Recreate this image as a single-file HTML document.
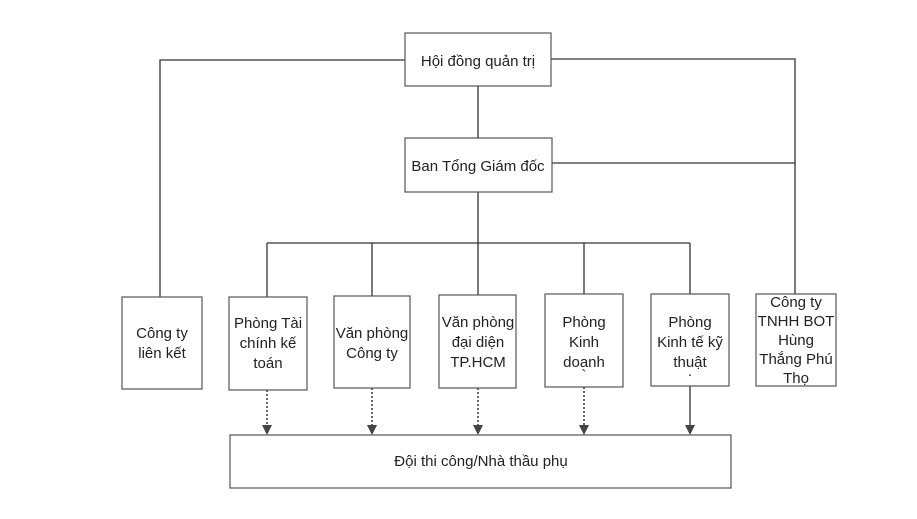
<!DOCTYPE html>
<html><head><meta charset="utf-8"><style>
html,body{margin:0;padding:0;background:#fff;}
svg{display:block;}
text{font-family:"Liberation Sans","DejaVu Sans",sans-serif;font-size:15px;fill:#222;text-anchor:middle;}
</style></head><body>
<svg width="917" height="519" viewBox="0 0 917 519" xmlns="http://www.w3.org/2000/svg">
<rect x="0" y="0" width="917" height="519" fill="#fff"/>
<g stroke="#333" stroke-width="1.3" fill="none">
<polyline points="405,60 160,60 160,297"/>
<polyline points="551,59 795,59 795,294"/>
<line x1="552" y1="163" x2="795" y2="163"/>
<line x1="478" y1="86" x2="478" y2="138"/>
<line x1="478" y1="192" x2="478" y2="295"/>
<line x1="267" y1="243" x2="690" y2="243"/>
<line x1="267" y1="243" x2="267" y2="297"/>
<line x1="372" y1="243" x2="372" y2="296"/>
<line x1="584" y1="243" x2="584" y2="294"/>
<line x1="690" y1="243" x2="690" y2="294"/>
</g>
<g stroke="#333" stroke-width="1.5" fill="none" stroke-dasharray="2,2">
<line x1="267" y1="390" x2="267" y2="426"/>
<line x1="372" y1="388" x2="372" y2="426"/>
<line x1="478" y1="388" x2="478" y2="426"/>
<line x1="584" y1="387" x2="584" y2="426"/>
</g>
<line x1="690" y1="386" x2="690" y2="426" stroke="#333" stroke-width="1.3"/>
<g fill="#444">
<polygon points="262,425 272,425 267,435"/>
<polygon points="367,425 377,425 372,435"/>
<polygon points="473,425 483,425 478,435"/>
<polygon points="579,425 589,425 584,435"/>
<polygon points="685,425 695,425 690,435"/>
</g>
<g stroke="#555" stroke-width="1.2" fill="#fff">
<rect x="405" y="33" width="146" height="53"/>
<rect x="405" y="138" width="147" height="54"/>
<rect x="122" y="297" width="80" height="92"/>
<rect x="229" y="297" width="78" height="93"/>
<rect x="334" y="296" width="76" height="92"/>
<rect x="439" y="295" width="77" height="93"/>
<rect x="545" y="294" width="78" height="93"/>
<rect x="651" y="294" width="78" height="92"/>
<rect x="756" y="294" width="80" height="92"/>
<rect x="230" y="435" width="501" height="53"/>
</g>
<text x="478" y="66">Hội đồng quản trị</text>
<text x="478" y="171">Ban Tổng Giám đốc</text>
<text x="162" y="338">Công ty</text><text x="162" y="358">liên kết</text>
<text x="268" y="328">Phòng Tài</text><text x="268" y="348">chính kế</text><text x="268" y="368">toán</text>
<text x="372" y="338">Văn phòng</text><text x="372" y="358">Công ty</text>
<text x="478" y="327">Văn phòng</text><text x="478" y="347">đại diện</text><text x="478" y="367">TP.HCM</text>
<text x="584" y="327">Phòng</text><text x="584" y="347">Kinh</text><text x="584" y="367">doanh</text>
<text x="584" y="380">`</text>
<text x="690" y="327">Phòng</text><text x="690" y="347">Kinh tế kỹ</text><text x="690" y="367">thuật</text>
<text x="690" y="379">·</text>
<text x="796" y="307">Công ty</text><text x="796" y="326">TNHH BOT</text><text x="796" y="345">Hùng</text><text x="796" y="364">Thắng Phú</text><text x="796" y="383">Thọ</text>
<text x="481" y="466">Đội thi công/Nhà thầu phụ</text>
</svg>
</body></html>
